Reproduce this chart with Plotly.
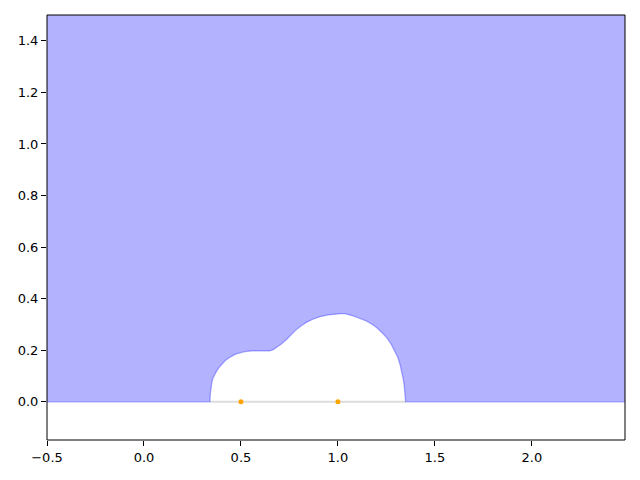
import plotly.graph_objects as go

# boundary of the white bump
bump_x = [0.340, 0.342, 0.345, 0.350, 0.357, 0.365, 0.375, 0.387, 0.400, 0.417,
          0.435, 0.452, 0.469, 0.495, 0.521, 0.560, 0.600, 0.630, 0.649, 0.667,
          0.684, 0.710, 0.735, 0.761, 0.787, 0.813, 0.839, 0.872, 0.907, 0.950,
          0.993, 1.015, 1.036, 1.058, 1.079, 1.103, 1.125, 1.148, 1.175, 1.199,
          1.225, 1.251, 1.274, 1.294, 1.309, 1.320, 1.330, 1.337, 1.342, 1.345,
          1.347, 1.349]
bump_y = [0.000, 0.030, 0.055, 0.076, 0.094, 0.108, 0.120, 0.133, 0.145, 0.158,
          0.169, 0.177, 0.184, 0.190, 0.195, 0.198, 0.199, 0.199, 0.198, 0.202,
          0.210, 0.225, 0.242, 0.262, 0.281, 0.296, 0.309, 0.321, 0.330, 0.337,
          0.341, 0.342, 0.342, 0.338, 0.333, 0.326, 0.320, 0.313, 0.301, 0.288,
          0.270, 0.249, 0.224, 0.197, 0.172, 0.145, 0.116, 0.087, 0.060, 0.036,
          0.018, 0.000]

# outer extent of the shaded region (beyond the axes, gets clipped)
outer_x = [-0.6, 2.6, 2.6, -0.6]
outer_y = [0.0, 0.0, 1.6, 1.6]

point_x = [0.5, 1.0]
point_y = [0.0, 0.0]

x_ticks = [-0.5, 0.0, 0.5, 1.0, 1.5, 2.0]
y_ticks = [0.0, 0.2, 0.4, 0.6, 0.8, 1.0, 1.2, 1.4]


def fmt(v):
    return f"{v:.1f}".replace("-", "\u2212")


poly_x = [outer_x[0]] + bump_x + outer_x[1:] + [outer_x[0]]
poly_y = [outer_y[0]] + bump_y + outer_y[1:] + [outer_y[0]]

fig = go.Figure()

# gray baseline inside the bump
fig.add_trace(go.Scatter(
    x=[bump_x[0], bump_x[-1]], y=[0, 0],
    mode='lines', line=dict(color='#dddddd', width=2),
    hoverinfo='skip'
))

fig.add_trace(go.Scatter(
    x=poly_x, y=poly_y,
    mode='lines', fill='toself',
    fillcolor='rgba(0,0,255,0.3)',
    line=dict(color='rgba(0,0,255,0.3)', width=1.3),
    hoverinfo='skip'
))

fig.add_trace(go.Scatter(
    x=point_x, y=point_y,
    mode='markers', marker=dict(color='#ffa500', size=5),
    cliponaxis=False
))

axis_common = dict(
    showgrid=False, zeroline=False,
    showline=False,
    ticks='outside', ticklen=5, tickwidth=1, tickcolor='black',
    tickfont=dict(family='DejaVu Sans', size=13, color='black'),
)

fig.update_layout(
    width=640, height=480,
    margin=dict(l=47, r=15, t=15, b=40),
    paper_bgcolor='white', plot_bgcolor='white',
    showlegend=False,
    xaxis=dict(range=[-0.5, 2.48], tickvals=x_ticks,
               ticktext=[fmt(v) for v in x_ticks], **axis_common),
    yaxis=dict(range=[-0.148, 1.5], tickvals=y_ticks,
               ticktext=[fmt(v) for v in y_ticks], **axis_common),
)

# axes frame
fig.add_shape(type='rect', xref='paper', yref='paper', x0=0, y0=0, x1=1, y1=1,
              line=dict(color='black', width=1), layer='above')

fig.write_html("out.html", config={'displayModeBar': False},
               post_script="document.body.style.margin='0';")
